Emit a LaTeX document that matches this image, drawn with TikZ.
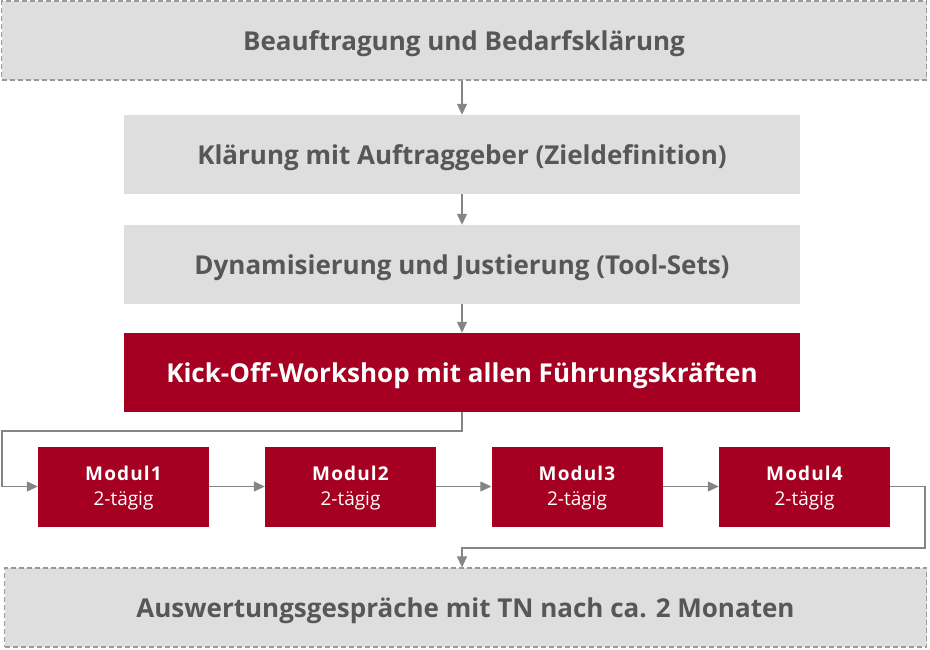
\documentclass[tikz,border=0pt]{standalone}
\usepackage{fontspec}
\setmainfont{Open Sans}
\newfontfamily\modfont[LetterSpace=6]{Open Sans}
\usetikzlibrary{arrows.meta}
\definecolor{boxgray}{HTML}{DEDEDE}
\definecolor{txtgray}{HTML}{575757}
\definecolor{dashgray}{HTML}{9A9A9A}
\definecolor{linegray}{HTML}{858585}
\definecolor{darkred}{HTML}{A50021}
\tikzset{
  graybox/.style={rectangle, fill=boxgray, inner sep=0pt, minimum height=79pt, text depth=0pt, text=txtgray, font=\fontsize{26}{30}\selectfont\bfseries},
  dashbox/.style={graybox, draw=dashgray, line width=1.2pt, dash pattern=on 5pt off 3pt},
  redbox/.style={rectangle, fill=darkred, inner sep=0pt, minimum height=79pt, text depth=0pt, text=white, font=\fontsize{26}{30}\selectfont\bfseries},
  modbox/.style={rectangle, fill=darkred, inner sep=0pt, minimum width=171pt, minimum height=80pt, text depth=1pt, text=white, align=center, font=\fontsize{19}{25}\selectfont},
  arr/.style={draw=linegray, line width=1.3pt, -{Triangle[length=11pt,width=10pt]}},
}
\begin{document}
\begin{tikzpicture}[x=1pt,y=-1pt]
\useasboundingbox (0,0) rectangle (930,649);
\node[dashbox, minimum width=925pt] (top) at (464,40.5) {Beauftragung und Bedarfsklärung};
\node[graybox, minimum width=676pt] (b2) at (462,154.5) {Klärung mit Auftraggeber (Zieldefinition)};
\node[graybox, minimum width=676pt] (b3) at (462,264.5) {Dynamisierung und Justierung (Tool-Sets)};
\node[redbox, minimum width=676pt] (kick) at (462,372.5) {Kick-Off-Workshop mit allen Führungskräften};
\node[modbox] (m1) at (123.5,486.5) {{\modfont\bfseries Modul1}\\2-tägig};
\node[modbox] (m2) at (350.5,486.5) {{\modfont\bfseries Modul2}\\2-tägig};
\node[modbox] (m3) at (577,486.5) {{\modfont\bfseries Modul3}\\2-tägig};
\node[modbox] (m4) at (804.5,486.5) {{\modfont\bfseries Modul4}\\2-tägig};
\node[dashbox, minimum width=922pt] (bot) at (465.5,607.5) {Auswertungsgespräche mit TN nach ca. 2 Monaten};
\coordinate (L) at (2,431);
\coordinate (R) at (925,548);
\draw[arr] (b2.north |- top.south) -- (b2.north);
\draw[arr] (b2.south) -- (b3.north);
\draw[arr] (b3.south) -- (kick.south |- kick.north);
\draw[arr] (kick.south) |- (L) |- (m1.west);
\draw[arr] (m1.east) -- (m2.west);
\draw[arr] (m2.east) -- (m3.west);
\draw[arr] (m3.east) -- (m4.west);
\draw[arr] (m4.east) -| (R) -| (kick.south |- bot.north);
\end{tikzpicture}
\end{document}
